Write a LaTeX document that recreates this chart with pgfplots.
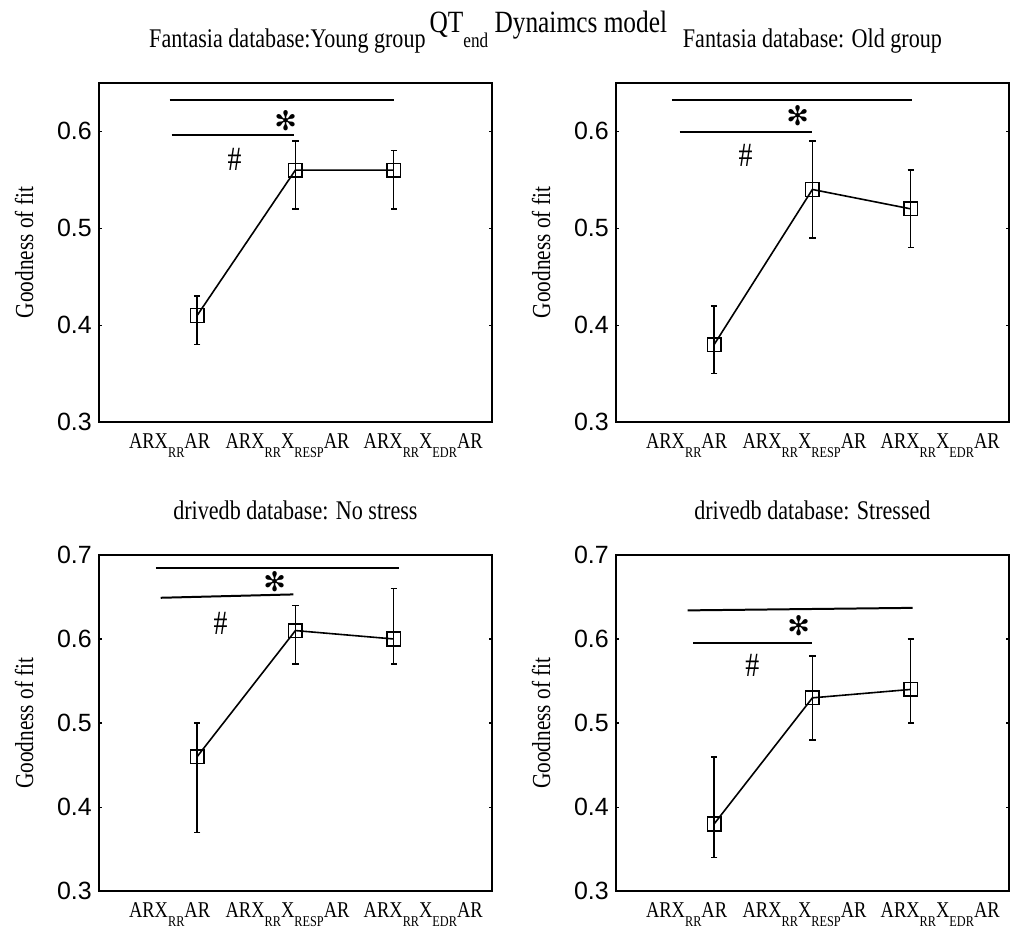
\documentclass[border=0pt]{standalone}
\usepackage{fontspec}
\setmainfont{Liberation Serif}[FakeStretch=0.82]
\newfontfamily\numfont{Liberation Sans}
\newfontfamily\symfont{DejaVu Sans}
\usepackage{pgfplots}
\pgfplotsset{compat=1.18}
\usepgfplotslibrary{groupplots}

\newcommand{\sub}[1]{\raisebox{-4.5pt}{\fontsize{7.5}{8}\selectfont #1}}
\newcommand{\sigstar}{{\symfont\fontsize{13.5}{13.5}\selectfont ✻}}
\newcommand{\sighash}{{\fontsize{17}{17}\selectfont\#}}

\begin{document}
\begin{tikzpicture}

\pgfplotsset{
    goodfit/.style={
        scale only axis,
        width=197pt,
        xmin=0, xmax=4, ymin=0.3,
        axis line style={line width=1pt},
        xtick={0.72,1.92,3.3},
        xticklabels={ARX\sub{RR}AR, ARX\sub{RR}X\sub{RESP}AR, ARX\sub{RR}X\sub{EDR}AR},
        x tick style={draw=none},
        y tick style={black, line width=0.6pt},
        major tick length=1.6pt,
        x tick label style={font=\fontsize{11.3}{12}\selectfont, anchor=north, yshift=-2pt},
        y tick label style={font=\numfont\fontsize{12.5}{13}\selectfont,
            /pgf/number format/fixed, /pgf/number format/precision=1,
            /pgf/number format/fixed zerofill},
        /pgf/number format/assume math mode=true,
        ylabel={Goodness of fit},
        ylabel style={font=\fontsize{13}{14}\selectfont,
            at={(axis description cs:-0.19,0.5)}, anchor=center},
        title style={font=\fontsize{13.5}{14}\selectfont,
            at={(0.5,1)}, anchor=base, yshift=11.5pt},
    },
    meanline/.style={
        black, line width=0.8pt,
        mark=square, mark size=3.4pt,
        mark options={line width=0.75pt, fill=none, solid},
        error bars/.cd, y dir=both, y explicit,
        error bar style={line width=0.65pt},
        error mark options={rotate=90, mark size=1.6pt, line width=0.8pt},
    },
    sigline/.style={black, line width=1pt, no marks, forget plot},
}

\begin{groupplot}[
    group style={group size=2 by 2, horizontal sep=62pt, vertical sep=66.5pt},
    goodfit,
]

% --- Fantasia, young ---
\nextgroupplot[height=170pt, ymax=0.65, ytick={0.3,0.4,0.5,0.6},
    title={Fantasia database:Young group}, title style={xshift=-4pt}]
\addplot[meanline] coordinates {
    (1,0.41) += (0,0.02) -= (0,0.03)
    (2,0.56) += (0,0.03) -= (0,0.04)
    (3,0.56) += (0,0.02) -= (0,0.04)
};
\addplot[sigline] coordinates {(0.72,0.632) (3.0,0.632)};
\addplot[sigline] coordinates {(0.74,0.596) (1.99,0.596)};
\node at (axis cs:1.90,0.611) {\sigstar};
\node at (axis cs:1.38,0.571) {\sighash};

% --- Fantasia, old ---
\nextgroupplot[height=170pt, ymax=0.65, ytick={0.3,0.4,0.5,0.6},
    title={Fantasia database: Old group}]
\addplot[meanline] coordinates {
    (1,0.38) += (0,0.04) -= (0,0.03)
    (2,0.54) += (0,0.05) -= (0,0.05)
    (3,0.52) += (0,0.04) -= (0,0.04)
};
\addplot[sigline] coordinates {(0.57,0.632) (3.01,0.632)};
\addplot[sigline] coordinates {(0.65,0.599) (2.0,0.599)};
\node at (axis cs:1.85,0.616) {\sigstar};
\node at (axis cs:1.32,0.575) {\sighash};

% --- drivedb, no stress ---
\nextgroupplot[height=168.5pt, ymax=0.7, ytick={0.3,0.4,0.5,0.6,0.7},
    title={drivedb database: No stress}]
\addplot[meanline] coordinates {
    (1,0.46) += (0,0.04) -= (0,0.09)
    (2,0.61) += (0,0.03) -= (0,0.04)
    (3,0.60) += (0,0.06) -= (0,0.03)
};
\addplot[sigline] coordinates {(0.58,0.685) (3.05,0.685)};
\addplot[sigline] coordinates {(0.63,0.649) (1.98,0.653)};
\node at (axis cs:1.79,0.668) {\sigstar};
\node at (axis cs:1.24,0.618) {\sighash};

% --- drivedb, stressed ---
\nextgroupplot[height=168.5pt, ymax=0.7, ytick={0.3,0.4,0.5,0.6,0.7},
    title={drivedb database: Stressed}]
\addplot[meanline] coordinates {
    (1,0.38) += (0,0.08) -= (0,0.04)
    (2,0.53) += (0,0.05) -= (0,0.05)
    (3,0.54) += (0,0.06) -= (0,0.04)
};
\addplot[sigline] coordinates {(0.73,0.634) (3.02,0.637)};
\addplot[sigline] coordinates {(0.79,0.595) (2.0,0.595)};
\node at (axis cs:1.86,0.616) {\sigstar};
\node at (axis cs:1.39,0.569) {\sighash};

\end{groupplot}

% overall title
\node[anchor=base west, font=\fontsize{15.5}{16}\selectfont, inner sep=0pt]
    at ([xshift=165.5pt,yshift=25pt]group c1r1.north west)
    {QT\raisebox{-7.5pt}{\fontsize{10.5}{11}\selectfont end} Dynaimcs model};

\pgfresetboundingbox
\path ([xshift=-49.5pt,yshift=41.5pt]group c1r1.north west)
    rectangle ([xshift=0.5pt,yshift=-19.5pt]group c2r2.south east);

\end{tikzpicture}
\end{document}
